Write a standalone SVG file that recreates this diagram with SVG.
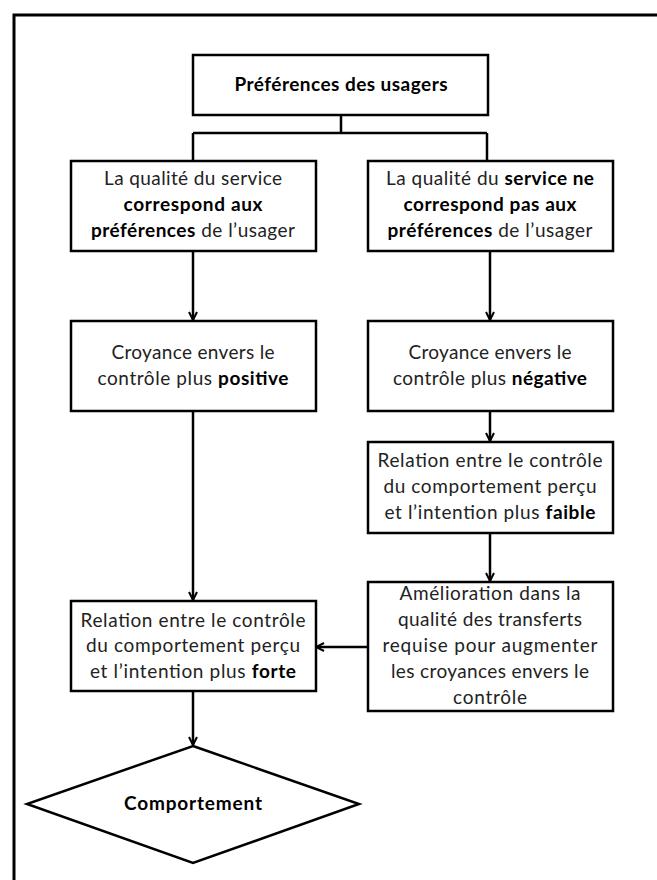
<svg xmlns="http://www.w3.org/2000/svg" width="657" height="880" viewBox="0 0 657 880">
<style>
.box{fill:#fff;stroke:#000;stroke-width:2.5}
.t{font-family:Lato,"Liberation Sans",sans-serif;font-size:19px;fill:#222;text-anchor:middle}
.b{font-weight:bold;fill:#000}
.c{fill:none;stroke:#000;stroke-width:2.5}
</style>
<defs>
<marker id="ah" viewBox="0 0 10 10" refX="9" refY="5" markerWidth="10" markerHeight="10" markerUnits="userSpaceOnUse" orient="auto">
<path d="M1,1 L9,5 L1,9" fill="none" stroke="#000" stroke-width="2"/>
</marker>
</defs>
<rect x="0" y="0" width="657" height="880" fill="#fff"/>
<rect x="14" y="15" width="700" height="900" fill="none" stroke="#000" stroke-width="3"/>
<g id="connectors">
<path class="c" d="M341,115 V133 M193,133 H487 M193,133 V160 M487,133 V160"/>
<path class="c" d="M193,251 V320" marker-end="url(#ah)"/>
<path class="c" d="M490,251 V320" marker-end="url(#ah)"/>
<path class="c" d="M490,411 V441" marker-end="url(#ah)"/>
<path class="c" d="M490,533 V581" marker-end="url(#ah)"/>
<path class="c" d="M193,411 V600" marker-end="url(#ah)"/>
<path class="c" d="M368,647 H316" marker-end="url(#ah)"/>
<path class="c" d="M193,691 V745" marker-end="url(#ah)"/>
</g>
<g id="n_pref">
<rect class="box" x="193" y="55" width="295" height="60"/>
<text class="t b" x="341" y="91" textLength="213">Préférences des usagers</text>
</g>
<g id="n_corr">
<rect class="box" x="71" y="161" width="245" height="90"/>
<text class="t" x="193" y="185" textLength="178">La qualité du service</text>
<text class="t b" x="193" y="211" textLength="139">correspond aux</text>
<text class="t" x="193" y="237" textLength="204"><tspan class="b">préférences</tspan> de l’usager</text>
</g>
<g id="n_ncorr">
<rect class="box" x="368" y="161" width="245" height="90"/>
<text class="t" x="490" y="185" textLength="208">La qualité du <tspan class="b">service ne</tspan></text>
<text class="t b" x="490" y="211" textLength="173">correspond pas aux</text>
<text class="t" x="490" y="237" textLength="205"><tspan class="b">préférences</tspan> de l’usager</text>
</g>
<g id="n_pos">
<rect class="box" x="71" y="321" width="245" height="90"/>
<text class="t" x="193" y="359" textLength="163">Croyance envers le</text>
<text class="t" x="193" y="385" textLength="191">contrôle plus <tspan class="b">positive</tspan></text>
</g>
<g id="n_neg">
<rect class="box" x="368" y="321" width="245" height="90"/>
<text class="t" x="490" y="359" textLength="163">Croyance envers le</text>
<text class="t" x="490" y="385" textLength="194">contrôle plus <tspan class="b">négative</tspan></text>
</g>
<g id="n_faible">
<rect class="box" x="368" y="442" width="245" height="91"/>
<text class="t" x="490" y="467" textLength="225">Relation entre le contrôle</text>
<text class="t" x="490" y="493" textLength="213">du comportement perçu</text>
<text class="t" x="490" y="519" textLength="211">et l’intention plus <tspan class="b">faible</tspan></text>
</g>
<g id="n_amel">
<rect class="box" x="368" y="582" width="245" height="129"/>
<text class="t" x="490" y="600" textLength="181">Amélioration dans la</text>
<text class="t" x="490" y="626" textLength="184">qualité des transferts</text>
<text class="t" x="490" y="652" textLength="215">requise pour augmenter</text>
<text class="t" x="490" y="678" textLength="198">les croyances envers le</text>
<text class="t" x="490" y="704" textLength="74">contrôle</text>
</g>
<g id="n_forte">
<rect class="box" x="71" y="601" width="245" height="90"/>
<text class="t" x="193" y="627" textLength="225">Relation entre le contrôle</text>
<text class="t" x="193" y="652" textLength="214">du comportement perçu</text>
<text class="t" x="193" y="678" textLength="206">et l’intention plus <tspan class="b">forte</tspan></text>
</g>
<g id="n_comp">
<polygon class="box" points="193,746 359,804 193,863 27,804"/>
<text class="t b" x="193" y="810" textLength="138">Comportement</text>
</g>
</svg>
